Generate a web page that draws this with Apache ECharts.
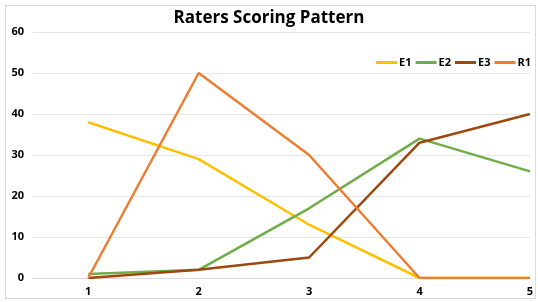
<!DOCTYPE html>
<html>
<head>
<meta charset="utf-8">
<script src="https://cdn.jsdelivr.net/npm/echarts@6/dist/echarts.min.js"></script>
<style>
  html, body { margin: 0; padding: 0; background: #fff; }
  #frame { position: absolute; left: 5px; top: 5px; width: 531px; height: 294px; border: 1px solid #d9d9d9; box-sizing: border-box; }
  #chart { width: 538px; height: 302px; position: absolute; left: 0; top: 0; }
</style>
</head>
<body>
<div id="frame"></div>
<div id="chart"></div>
<script>
var raters = [1, 2, 3, 4, 5];
var e1 = [38, 29, 13, 0, 0];
var e2 = [1, 2, 17, 34, 26];
var e3 = [0, 2, 5, 33, 40];
var r1 = [0, 50, 30, 0, 0];

function pairs(vals) {
    return raters.map(function (x, i) { return [x, vals[i]]; });
}

var myChart = echarts.init(document.getElementById('chart'));
var font = 'Open Sans, Liberation Sans, sans-serif';
var option = {
    animation: false,
    color: ['#FFC000', '#70AD47', '#9E480E', '#ED7D31'],
    title: {
        text: 'Raters Scoring Pattern',
        left: 'center',
        top: 5,
        textStyle: { fontFamily: font, fontSize: 17, fontWeight: 'bold', color: '#000' }
    },
    legend: {
        data: ['E1', 'E2', 'E3', 'R1'],
        right: 2,
        top: 52,
        itemWidth: 21,
        itemHeight: 3,
        itemGap: 4,
        icon: 'rect',
        textStyle: { fontFamily: font, fontSize: 11, fontWeight: 'bold', color: '#000', padding: [0, 0, 0, -3] }
    },
    grid: { left: 33, right: 8, top: 32, bottom: 24 },
    xAxis: {
        type: 'value',
        min: 0.5,
        max: 5,
        interval: 0.5,
        splitLine: { show: false },
        axisTick: { show: false },
        axisLine: { lineStyle: { color: '#d9d9d9' } },
        axisLabel: {
            fontFamily: font, fontSize: 11, fontWeight: 'bold', color: '#000',
            formatter: function (v) { return Number.isInteger(v) ? String(v) : ''; }
        }
    },
    yAxis: {
        type: 'value',
        min: 0,
        max: 60,
        interval: 10,
        axisLine: { show: false },
        axisTick: { show: false },
        splitLine: { lineStyle: { color: '#e6e6e6' } },
        axisLabel: { fontFamily: font, fontSize: 11, fontWeight: 'bold', color: '#000', margin: 9 }
    },
    series: [
        { name: 'E1', type: 'line', data: pairs(e1) },
        { name: 'E2', type: 'line', data: pairs(e2) },
        { name: 'E3', type: 'line', data: pairs(e3) },
        { name: 'R1', type: 'line', data: pairs(r1) }
    ].map(function (s) {
        s.showSymbol = false;
        s.symbol = 'none';
        s.lineStyle = { width: 2.5 };
        return s;
    })
};
myChart.setOption(option);
</script>
</body>
</html>
